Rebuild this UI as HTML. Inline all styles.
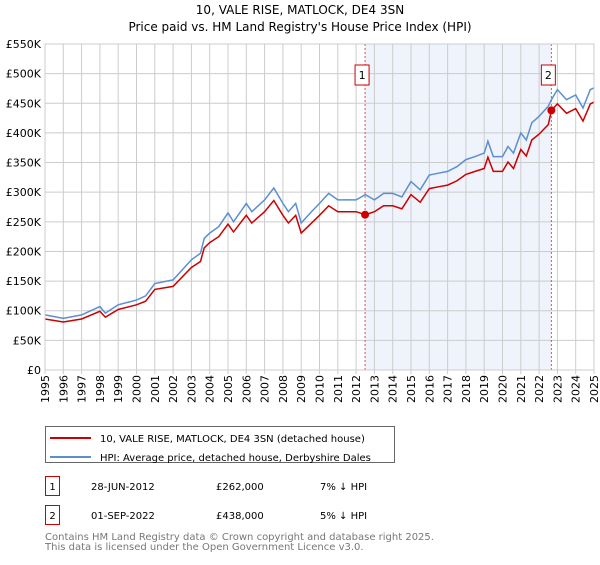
<!DOCTYPE html>
<html><head><meta charset="utf-8"><style>
body{margin:0;background:#fff;font-family:"Liberation Sans","DejaVu Sans",sans-serif}
svg text{font-family:"DejaVu Sans","Liberation Sans",sans-serif}
</style></head><body>
<svg width="600" height="560" xmlns="http://www.w3.org/2000/svg">
<g id="root"></g>
<text x="300" y="14" text-anchor="middle" font-size="12">10, VALE RISE, MATLOCK, DE4 3SN</text>
<text x="300" y="31" text-anchor="middle" font-size="12">Price paid vs. HM Land Registry's House Price Index (HPI)</text>
<rect x="45.5" y="426.5" width="349" height="36" fill="#fff" stroke="#666"/>
<line x1="50" y1="438" x2="91" y2="438" stroke="#cc0000" stroke-width="2"/>
<text x="100" y="442" font-size="10">10, VALE RISE, MATLOCK, DE4 3SN (detached house)</text>
<line x1="50" y1="457" x2="91" y2="457" stroke="#5b8fd0" stroke-width="2"/>
<text x="100" y="461" font-size="10">HPI: Average price, detached house, Derbyshire Dales</text>
<rect x="45.5" y="476.5" width="14" height="19" fill="none" stroke="#cc0000"/>
<text x="52.5" y="490" font-size="10" text-anchor="middle">1</text>
<text x="91" y="490" font-size="10">28-JUN-2012</text>
<text x="216" y="490" font-size="10">£262,000</text>
<text x="320" y="490" font-size="10">7% ↓ HPI</text>
<rect x="45.5" y="505.5" width="14" height="19" fill="none" stroke="#cc0000"/>
<text x="52.5" y="519" font-size="10" text-anchor="middle">2</text>
<text x="91" y="519" font-size="10">01-SEP-2022</text>
<text x="216" y="519" font-size="10">£438,000</text>
<text x="320" y="519" font-size="10">5% ↓ HPI</text>
<text x="45" y="540" font-size="10" fill="#777">Contains HM Land Registry data © Crown copyright and database right 2025.</text>
<text x="45" y="550" font-size="10" fill="#777">This data is licensed under the Open Government Licence v3.0.</text>
</svg>
<script>
const years=[1995,1996,1997,1998,1998.3,1999,2000,2000.5,2001,2002,2003,2003.5,2003.7,2004,2004.5,2005,2005.3,2006,2006.3,2007,2007.5,2008,2008.3,2008.7,2009,2009.5,2010,2010.5,2011,2011.5,2012,2012.5,2013,2013.5,2014,2014.5,2015,2015.5,2016,2016.5,2017,2017.5,2018,2018.5,2019,2019.2,2019.5,2020,2020.3,2020.6,2021,2021.3,2021.6,2022,2022.5,2022.67,2023,2023.5,2024,2024.4,2024.8,2025];
const hpi=[93,87,93,107,96,110,118,125,146,152,186,197,222,231,242,265,250,281,267,287,307,281,267,281,248,265,281,298,287,287,287,296,287,298,298,292,318,304,329,332,335,343,355,360,366,386,360,360,377,366,400,388,417,428,445,456,473,456,464,442,473,476];
const price=[86,81,86,99,89,102,110,116,136,141,173,183,206,215,225,246,233,261,248,267,286,261,248,261,231,246,261,277,267,267,267,262,267,277,277,272,296,283,306,309,312,319,330,335,340,359,335,335,351,340,372,361,388,398,414,438,449,433,441,420,449,452];
const yTicks=[0,50,100,150,200,250,300,350,400,450,500,550];
const yTickLabels=['£0','£50K','£100K','£150K','£200K','£250K','£300K','£350K','£400K','£450K','£500K','£550K'];
const xTicks=[1995,1996,1997,1998,1999,2000,2001,2002,2003,2004,2005,2006,2007,2008,2009,2010,2011,2012,2013,2014,2015,2016,2017,2018,2019,2020,2021,2022,2023,2024,2025];
const sales=[{n:'1',t:2012.49,v:262},{n:'2',t:2022.67,v:438}];
const L=45,R=594,T=44,B=370;
const X=t=>L+(t-1995)/30*(R-L);
const Y=v=>B-v/550*(B-T);
const NS='http://www.w3.org/2000/svg';
const root=document.getElementById('root');
function mk(tag,a,p){const e=document.createElementNS(NS,tag);for(const k in a)e.setAttribute(k,a[k]);(p||root).appendChild(e);return e;}
const shade=mk('rect',{x:X(sales[0].t),y:T,width:X(sales[1].t)-X(sales[0].t),height:B-T,fill:'#eef3fc'});


yTicks.forEach((v,i)=>{
 const g=mk('line',{x1:L,x2:R,y1:Y(v),y2:Y(v),stroke:'#ccc'});
 
 
 const t=mk('text',{x:L-4,y:Y(v)+4,'text-anchor':'end','font-size':'11'});
 t.textContent=yTickLabels[i];
 
 
});
xTicks.forEach(yr=>{
 const g=mk('line',{x1:X(yr),x2:X(yr),y1:T,y2:B+4,stroke:'#ccc'});
 
 
 const tx=X(yr)+4, ty=375;
 const t=mk('text',{x:tx,y:ty,'font-size':'11','text-anchor':'end',transform:'rotate(-90 '+tx.toFixed(1)+' '+ty+')'});
 t.textContent=yr;
 
 
});
sales.forEach(s=>{
 const l=mk('line',{x1:X(s.t),x2:X(s.t),y1:T,y2:B,stroke:'#e05050','stroke-dasharray':'2,2'});
 
 
});
const pts=a=>a.map((v,i)=>X(years[i]).toFixed(1)+','+Y(v).toFixed(1)).join(' ');
const hl=mk('polyline',{points:pts(hpi),fill:'none',stroke:'#5b8fd0','stroke-width':1.5});


const pl=mk('polyline',{points:pts(price),fill:'none',stroke:'#cc0000','stroke-width':1.5});


sales.forEach(s=>{
 const c=mk('circle',{cx:X(s.t),cy:Y(s.v),r:4,fill:'#cc0000'});
 
 
 const b=mk('rect',{x:X(s.t)-10,y:65,width:14,height:20,fill:'#fff',stroke:'#cc0000'});
 
 
 const t=mk('text',{x:X(s.t)-3,y:79,'text-anchor':'middle','font-size':'11'});
 t.textContent=s.n;
 
 
});
const ax=mk('rect',{x:L,y:T,width:R-L,height:B-T,fill:'none',stroke:'#ccc'});


</script>
</body></html>
